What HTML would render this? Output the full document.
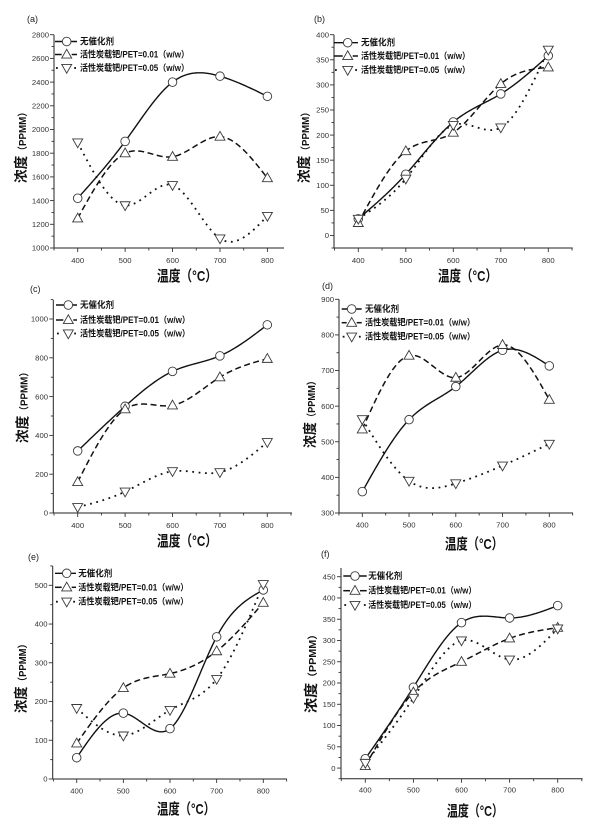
<!DOCTYPE html>
<html><head><meta charset="utf-8">
<style>
html,body{margin:0;padding:0;background:#fff;}
svg{display:block;}
.tl{font-family:"Liberation Sans",Arial,sans-serif;font-size:7.7px;fill:#333;}
.tr{text-anchor:end;}
.tc{text-anchor:middle;}
.lg{font-family:"Liberation Sans","Noto Sans CJK SC",sans-serif;font-size:9px;fill:#111;font-weight:bold;}
.at{font-family:"Liberation Sans","Noto Sans CJK SC",sans-serif;font-size:15px;font-weight:bold;fill:#111;}
.yl{font-family:"Liberation Sans","Noto Sans CJK SC",sans-serif;font-weight:bold;fill:#111;text-anchor:middle;}
.pl{font-family:"Liberation Sans",Arial,sans-serif;font-size:9px;fill:#222;}
</style></head>
<body>
<svg id="s" width="600" height="818" viewBox="0 0 600 818" xmlns="http://www.w3.org/2000/svg">
<rect width="600" height="818" fill="#fff"/>
<g id="plot"></g>

<!-- panel labels -->
<text class="pl" x="27" y="22">(a)</text>
<text class="pl" x="314" y="22">(b)</text>
<text class="pl" x="30" y="292">(c)</text>
<text class="pl" x="322" y="289">(d)</text>
<text class="pl" x="28" y="560">(e)</text>
<text class="pl" x="321" y="557">(f)</text>

<!-- (a) tick labels -->
<g class="tl tr">
<text x="49" y="250.7">1000</text><text x="49" y="227">1200</text><text x="49" y="203.3">1400</text>
<text x="49" y="179.6">1600</text><text x="49" y="155.9">1800</text><text x="49" y="132.2">2000</text>
<text x="49" y="108.5">2200</text><text x="49" y="84.8">2400</text><text x="49" y="61.1">2600</text>
<text x="49" y="37.4">2800</text>
</g>
<g class="tl tc">
<text x="77.7" y="263">400</text><text x="125.1" y="263">500</text><text x="172.6" y="263">600</text>
<text x="220" y="263">700</text><text x="267.4" y="263">800</text>
</g>

<!-- (b) tick labels -->
<g class="tl tr">
<text x="329" y="238.2">0</text><text x="329" y="213.1">50</text><text x="329" y="188">100</text>
<text x="329" y="162.9">150</text><text x="329" y="137.8">200</text><text x="329" y="112.7">250</text>
<text x="329" y="87.6">300</text><text x="329" y="62.5">350</text><text x="329" y="37.4">400</text>
</g>
<g class="tl tc">
<text x="358.3" y="263">400</text><text x="405.8" y="263">500</text><text x="453.3" y="263">600</text>
<text x="500.8" y="263">700</text><text x="548.3" y="263">800</text>
</g>

<!-- (c) tick labels -->
<g class="tl tr">
<text x="48" y="515.7">0</text><text x="48" y="476.9">200</text><text x="48" y="438.1">400</text>
<text x="48" y="399.3">600</text><text x="48" y="360.5">800</text><text x="48" y="321.7">1000</text>
</g>
<g class="tl tc">
<text x="77.7" y="528">400</text><text x="125.1" y="528">500</text><text x="172.5" y="528">600</text>
<text x="219.9" y="528">700</text><text x="267.3" y="528">800</text>
</g>

<!-- (d) tick labels -->
<g class="tl tr">
<text x="334" y="515.7">300</text><text x="334" y="480.1">400</text><text x="334" y="444.5">500</text>
<text x="334" y="408.8">600</text><text x="334" y="373.2">700</text><text x="334" y="337.6">800</text>
<text x="334" y="302">900</text>
</g>
<g class="tl tc">
<text x="362.3" y="527.5">400</text><text x="409.1" y="527.5">500</text><text x="455.8" y="527.5">600</text>
<text x="502.6" y="527.5">700</text><text x="549.3" y="527.5">800</text>
</g>

<!-- (e) tick labels -->
<g class="tl tr">
<text x="47.5" y="781.7">0</text><text x="47.5" y="743">100</text><text x="47.5" y="704.2">200</text>
<text x="47.5" y="665.5">300</text><text x="47.5" y="626.7">400</text><text x="47.5" y="588">500</text>
</g>
<g class="tl tc">
<text x="76.7" y="793.5">400</text><text x="123.3" y="793.5">500</text><text x="170" y="793.5">600</text>
<text x="216.6" y="793.5">700</text><text x="263.3" y="793.5">800</text>
</g>

<!-- (f) tick labels -->
<g class="tl tr">
<text x="335.5" y="770.8">0</text><text x="335.5" y="749.5">50</text><text x="335.5" y="728.2">100</text>
<text x="335.5" y="707">150</text><text x="335.5" y="685.7">200</text><text x="335.5" y="664.4">250</text>
<text x="335.5" y="643.2">300</text><text x="335.5" y="621.9">350</text><text x="335.5" y="600.6">400</text>
<text x="335.5" y="579.4">450</text>
</g>
<g class="tl tc">
<text x="365.3" y="792.5">400</text><text x="413.4" y="792.5">500</text><text x="461.5" y="792.5">600</text>
<text x="509.6" y="792.5">700</text><text x="557.7" y="792.5">800</text>
</g>

<!-- axis titles -->
<text class="at" x="157" y="281" textLength="60" lengthAdjust="spacingAndGlyphs">温度（°C）</text>
<text class="at" x="438" y="281" textLength="59" lengthAdjust="spacingAndGlyphs">温度（°C）</text>
<text class="at" x="157" y="546" textLength="60" lengthAdjust="spacingAndGlyphs">温度（°C）</text>
<text class="at" x="445" y="549" textLength="58" lengthAdjust="spacingAndGlyphs">温度（°C）</text>
<text class="at" x="157" y="814" textLength="58" lengthAdjust="spacingAndGlyphs">温度（°C）</text>
<text class="at" x="447" y="816" textLength="56" lengthAdjust="spacingAndGlyphs">温度（°C）</text>

<!-- y axis titles -->
<text class="yl" transform="translate(21,145) rotate(-90)" x="0" y="5" textLength="76" lengthAdjust="spacingAndGlyphs"><tspan font-size="14">浓度</tspan><tspan font-size="10">（PPMM）</tspan></text>
<text class="yl" transform="translate(304,145) rotate(-90)" x="0" y="5" textLength="76" lengthAdjust="spacingAndGlyphs"><tspan font-size="14">浓度</tspan><tspan font-size="10">（PPMM）</tspan></text>
<text class="yl" transform="translate(22.5,405) rotate(-90)" x="0" y="5" textLength="76" lengthAdjust="spacingAndGlyphs"><tspan font-size="14">浓度</tspan><tspan font-size="10">（PPMM）</tspan></text>
<text class="yl" transform="translate(310,412) rotate(-90)" x="0" y="5" textLength="72" lengthAdjust="spacingAndGlyphs"><tspan font-size="14">浓度</tspan><tspan font-size="10">（PPMM）</tspan></text>
<text class="yl" transform="translate(21,676) rotate(-90)" x="0" y="5" textLength="74" lengthAdjust="spacingAndGlyphs"><tspan font-size="14">浓度</tspan><tspan font-size="10">（PPMM）</tspan></text>
<text class="yl" transform="translate(311,671) rotate(-90)" x="0" y="5" textLength="84" lengthAdjust="spacingAndGlyphs"><tspan font-size="14">浓度</tspan><tspan font-size="10">（PPMM）</tspan></text>

<!-- legends text -->
<text class="lg" x="80" y="44.5" textLength="34" lengthAdjust="spacingAndGlyphs">无催化剂</text>
<text class="lg" x="80" y="57.5" textLength="109" lengthAdjust="spacingAndGlyphs">活性炭载钯/PET=0.01（w/w）</text>
<text class="lg" x="80" y="71" textLength="109" lengthAdjust="spacingAndGlyphs">活性炭载钯/PET=0.05（w/w）</text>

<text class="lg" x="361" y="45.7" textLength="34" lengthAdjust="spacingAndGlyphs">无催化剂</text>
<text class="lg" x="361" y="59" textLength="109" lengthAdjust="spacingAndGlyphs">活性炭载钯/PET=0.01（w/w）</text>
<text class="lg" x="361" y="73" textLength="109" lengthAdjust="spacingAndGlyphs">活性炭载钯/PET=0.05（w/w）</text>

<text class="lg" x="80" y="308" textLength="34" lengthAdjust="spacingAndGlyphs">无催化剂</text>
<text class="lg" x="80" y="323" textLength="110" lengthAdjust="spacingAndGlyphs">活性炭载钯/PET=0.01（w/w）</text>
<text class="lg" x="80" y="336.5" textLength="110" lengthAdjust="spacingAndGlyphs">活性炭载钯/PET=0.05（w/w）</text>

<text class="lg" x="365" y="312" textLength="34" lengthAdjust="spacingAndGlyphs">无催化剂</text>
<text class="lg" x="365" y="325.7" textLength="110" lengthAdjust="spacingAndGlyphs">活性炭载钯/PET=0.01（w/w）</text>
<text class="lg" x="365" y="339.7" textLength="110" lengthAdjust="spacingAndGlyphs">活性炭载钯/PET=0.05（w/w）</text>

<text class="lg" x="78.3" y="576.3" textLength="34" lengthAdjust="spacingAndGlyphs">无催化剂</text>
<text class="lg" x="78.3" y="590.3" textLength="110" lengthAdjust="spacingAndGlyphs">活性炭载钯/PET=0.01（w/w）</text>
<text class="lg" x="78.3" y="604.7" textLength="110" lengthAdjust="spacingAndGlyphs">活性炭载钯/PET=0.05（w/w）</text>

<text class="lg" x="368.3" y="579" textLength="34" lengthAdjust="spacingAndGlyphs">无催化剂</text>
<text class="lg" x="368.3" y="593.7" textLength="108" lengthAdjust="spacingAndGlyphs">活性炭载钯/PET=0.01（w/w）</text>
<text class="lg" x="368.3" y="608" textLength="108" lengthAdjust="spacingAndGlyphs">活性炭载钯/PET=0.05（w/w）</text>
</svg>

<script>
(function(){
var NS="http://www.w3.org/2000/svg";
var G=document.getElementById("plot");
function el(n,a){var e=document.createElementNS(NS,n);for(var k in a)e.setAttribute(k,a[k]);G.appendChild(e);return e;}
var P=[
 {ax:54,right:284,top:34.7,bot:248,vb:1000,vr:2800,yr:34.7,x4:77.7,x8:267.4,minor:100,major:200,
  d:[[1420,1900,2400,2450,2280],[1250,1800,1770,1940,1590],[1890,1360,1530,1080,1270]],
  rows:[41.5,54.5,68],l0:55,l1:77,m:66.7},
 {ax:334,right:572.7,top:34.7,bot:248,vb:-25,vr:400,yr:34.7,x4:358.3,x8:548.3,minor:25,major:50,
  d:[[33,122,226,282,358],[25,168,205,302,335],[33,113,220,215,370]],
  rows:[42.7,56,70],l0:334,l1:358,m:347.7},
 {ax:53.3,right:292,top:300,bot:513,vb:0,vr:1000,yr:319,x4:77.7,x8:267.3,minor:100,major:200,
  d:[[320,550,730,810,970],[160,535,555,700,795],[30,110,215,210,365]],
  rows:[305,320,333.5],l0:56,l1:77,m:68.3},
 {ax:339,right:573,top:299.3,bot:513,vb:300,vr:900,yr:299.3,x4:362.3,x8:549.3,minor:50,major:100,
  d:[[360,562,655,757,713],[535,742,680,772,618],[563,390,383,433,494]],
  rows:[309,322.7,336.7],l0:341.7,l1:361.7,m:351.7},
 {ax:52.7,right:287,top:566,bot:779,vb:0,vr:500,yr:585.3,x4:76.7,x8:263.3,minor:50,major:100,
  d:[[55,170,130,367,488],[92,235,272,330,455],[183,112,178,258,503]],
  rows:[573.3,587.3,601.7],l0:55,l1:76,m:66.7},
 {ax:341,right:582.7,top:568,bot:778.7,vb:-25,vr:450,yr:576.7,x4:365.3,x8:557.7,minor:25,major:50,
  d:[[22,190,342,353,382],[5,178,250,305,330],[12,165,300,255,328]],
  rows:[576,590.7,605],l0:343.3,l1:366.7,m:355}
];
var STY=[
 {"stroke":"#111","stroke-width":"1.4","fill":"none"},
 {"stroke":"#111","stroke-width":"1.5","fill":"none","stroke-dasharray":"6,3.5"},
 {"stroke":"#111","stroke-width":"1.8","fill":"none","stroke-dasharray":"1.8,4.6"}
];
function spl(ys){
 var n=ys.length,M=[],i;for(i=0;i<n;i++)M.push(0);
 var a=[],b=[],c=[],r=[];
 for(i=1;i<n-1;i++){a.push(1);b.push(4);c.push(1);r.push(6*(ys[i-1]-2*ys[i]+ys[i+1]));}
 var m=r.length,cp=[],dp=[];
 cp[0]=c[0]/b[0];dp[0]=r[0]/b[0];
 for(i=1;i<m;i++){var den=b[i]-a[i]*cp[i-1];cp[i]=c[i]/den;dp[i]=(r[i]-a[i]*dp[i-1])/den;}
 var sol=[];sol[m-1]=dp[m-1];for(i=m-2;i>=0;i--)sol[i]=dp[i]-cp[i]*sol[i+1];
 for(i=0;i<m;i++)M[i+1]=sol[i];
 return function(k,u){var w=1-u;return w*ys[k]+u*ys[k+1]+((w*w*w-w)*M[k]+(u*u*u-u)*M[k+1])/6;};
}
function marker(type,x,y){
 var st={"fill":"#fff","stroke":"#3a3a3a","stroke-width":"0.9"};
 if(type==0){st.cx=x;st.cy=y;st.r=4.3;el("circle",st);}
 else if(type==1){st.points=(x)+","+(y-5.2)+" "+(x-5)+","+(y+3.6)+" "+(x+5)+","+(y+3.6);el("polygon",st);}
 else {st.points=(x-5)+","+(y-3.6)+" "+(x+5)+","+(y-3.6)+" "+(x)+","+(y+5.2);el("polygon",st);}
}
P.forEach(function(p){
 var py=function(v){return p.bot-(v-p.vb)*(p.bot-p.yr)/(p.vr-p.vb);};
 var sx=(p.x8-p.x4)/400;
 var px=function(t){return p.x4+(t-400)*sx;};
 // axes
 el("line",{x1:p.ax,y1:p.top,x2:p.ax,y2:p.bot,stroke:"#222","stroke-width":"1"});
 el("line",{x1:p.ax,y1:p.bot,x2:p.right,y2:p.bot,stroke:"#222","stroke-width":"1"});
 // y ticks
 for(var v=p.vb;py(v)>=p.top-0.6;v+=p.minor){
  var maj=(((v%p.major)+p.major)%p.major)===0;
  var y=py(v);
  el("line",{x1:p.ax-(maj?4:2.5),y1:y,x2:p.ax,y2:y,stroke:"#333","stroke-width":"0.9"});
 }
 // x ticks
 for(var t=350;px(t)<=p.right+0.5;t+=50){
  var mj=(t%100)===0;var x=px(t);
  el("line",{x1:x,y1:p.bot,x2:x,y2:p.bot+(mj?4:2.5),stroke:"#333","stroke-width":"0.9"});
 }
 // series lines
 var xs=[400,500,600,700,800].map(px);
 p.d.forEach(function(ser,si){
  var ys=ser.map(py),f=spl(ys),pts=[],N=30;
  for(var k=0;k<4;k++){for(var j=(k==0?0:1);j<=N;j++){var u=j/N;pts.push((xs[k]+u*(xs[k+1]-xs[k])).toFixed(2)+","+f(k,u).toFixed(2));}}
  var a=JSON.parse(JSON.stringify(STY[si]));a.d="M"+pts.join(" L");el("path",a);
 });
 // legend lines
 p.rows.forEach(function(ry,si){
  if(si==0){el("line",{x1:p.l0,y1:ry,x2:p.l1,y2:ry,stroke:"#111","stroke-width":"1.4"});}
  else if(si==1){
   el("line",{x1:p.l0,y1:ry,x2:p.m-5,y2:ry,stroke:"#111","stroke-width":"1.5"});
   el("line",{x1:p.m+5,y1:ry,x2:p.l1,y2:ry,stroke:"#111","stroke-width":"1.5"});
  } else {
   el("rect",{x:p.l0+1,y:ry-0.9,width:1.8,height:1.8,fill:"#111"});
   el("rect",{x:p.l1-2.8,y:ry-0.9,width:1.8,height:1.8,fill:"#111"});
  }
 });
 // markers
 p.d.forEach(function(ser,si){ser.forEach(function(v,k){marker(si,xs[k],py(v));});});
 p.rows.forEach(function(ry,si){marker(si,p.m,ry);});
});
})();
</script>
</body></html>
